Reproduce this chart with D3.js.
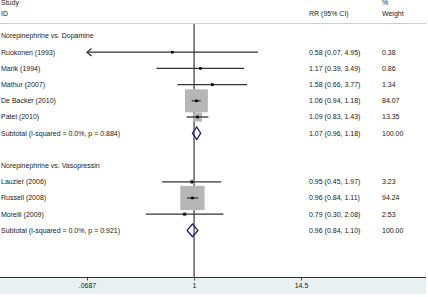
<!DOCTYPE html>
<html>
<head>
<meta charset="utf-8">
<script src="https://cdn.jsdelivr.net/npm/d3@7"></script>
<style>
  html, body { margin: 0; padding: 0; background: #ffffff; }
  svg { display: block; }
  text { font-family: "Liberation Sans", Arial, sans-serif; font-size: 7px; fill: #1a1a1a; }
</style>
</head>
<body>
<svg id="chart" width="428" height="297"></svg>
<script>
// ---- data ----
const groupNames = ["Norepinephrine vs. Dopamine", "Norepinephrine vs. Vasopressin"];
const studyNames = ["Ruokonen (1993)", "Marik (1994)", "Mathur (2007)", "De Backer (2010)", "Patel (2010)",
                    "Lauzier (2006)", "Russell (2008)", "Morelli (2009)"];
const studyGroup = [0, 0, 0, 0, 0, 1, 1, 1];
const rr      = [0.58, 1.17, 1.58, 1.06, 1.09, 0.95, 0.96, 0.79];
const ciLow   = [0.07, 0.39, 0.66, 0.94, 0.83, 0.45, 0.84, 0.30];
const ciHigh  = [4.95, 3.49, 3.77, 1.18, 1.43, 1.97, 1.11, 2.08];
const weights = [0.38, 0.86, 1.34, 84.07, 13.35, 3.23, 94.24, 2.53];
const subtotalLabels = ["Subtotal  (I-squared = 0.0%, p = 0.884)", "Subtotal  (I-squared = 0.0%, p = 0.921)"];
const subRR   = [1.07, 0.96];
const subLow  = [0.96, 0.84];
const subHigh = [1.18, 1.10];
const subWeight = [100.00, 100.00];
const tickValues = [0.0687, 1, 14.5];
const tickLabels = [".0687", "1", "14.5"];

// ---- layout ----
const W = 428, H = 297;
const svg = d3.select("#chart");
const x = d3.scaleLog().domain([0.0687, 14.5]).range([87, 301]);
const fmt = d3.format(".2f");
const ciText = (v, l, h) => `${fmt(v)} (${fmt(l)}, ${fmt(h)})`;

// build rows
const rows = [];
groupNames.forEach((g, gi) => {
  rows.push({type: "group", label: g});
  studyNames.forEach((s, i) => {
    if (studyGroup[i] === gi) rows.push({type: "study", label: s, v: rr[i], lo: ciLow[i], hi: ciHigh[i], w: weights[i]});
  });
  rows.push({type: "sub", label: subtotalLabels[gi], v: subRR[gi], lo: subLow[gi], hi: subHigh[gi], w: subWeight[gi]});
  rows.push({type: "blank"});
});
const y = d3.scaleLinear().domain([0, 1]).range([36, 52.2]);

const colText = 1, colCI = 309, colW = 382;
const axisY = 277;

// header
svg.append("text").attr("x", colText).attr("y", 3).attr("dy", "0.35em").text("Study");
svg.append("text").attr("x", colText).attr("y", 13.5).attr("dy", "0.35em").text("ID");
svg.append("text").attr("x", colCI).attr("y", 13.5).attr("dy", "0.35em").text("RR (95% CI)");
svg.append("text").attr("x", colW).attr("y", 3).attr("dy", "0.35em").text("%");
svg.append("text").attr("x", colW).attr("y", 13.5).attr("dy", "0.35em").text("Weight");
svg.append("line").attr("x1", 0).attr("x2", 426).attr("y1", 23.5).attr("y2", 23.5)
  .attr("stroke", "#cfcfcf").attr("stroke-width", 1);

// axis band
svg.append("rect").attr("x", 0).attr("y", axisY).attr("width", 426).attr("height", 17).attr("fill", "#e8f0f2");

// null line
svg.append("line").attr("x1", x(1)).attr("x2", x(1)).attr("y1", 24).attr("y2", axisY)
  .attr("stroke", "#111").attr("stroke-width", 1);

const boxK = 2.5;
rows.forEach((r, i) => {
  const cy = y(i);
  if (r.type === "blank") return;
  svg.append("text").attr("x", colText).attr("y", cy).attr("dy", "0.35em").text(r.label);
  if (r.type === "group") return;
  svg.append("text").attr("x", colCI).attr("y", cy).attr("dy", "0.35em").text(ciText(r.v, r.lo, r.hi));
  svg.append("text").attr("x", colW).attr("y", cy).attr("dy", "0.35em").text(fmt(r.w));
});

// boxes
const studyRows = rows.map((r, i) => ({...r, i})).filter(r => r.type === "study");
svg.selectAll("rect.box").data(studyRows).enter().append("rect")
  .attr("class", "box")
  .attr("x", d => x(d.v) - boxK * Math.sqrt(d.w) / 2)
  .attr("y", d => y(d.i) - boxK * Math.sqrt(d.w) / 2)
  .attr("width", d => boxK * Math.sqrt(d.w))
  .attr("height", d => boxK * Math.sqrt(d.w))
  .attr("fill", "#b6b6b6");

// CI lines
const dmin = x.domain()[0];
svg.selectAll("line.ci").data(studyRows).enter().append("line")
  .attr("class", "ci")
  .attr("x1", d => x(Math.max(d.lo, dmin)))
  .attr("x2", d => x(d.hi))
  .attr("y1", d => y(d.i)).attr("y2", d => y(d.i))
  .attr("stroke", "#333").attr("stroke-width", 1.3);

// arrows for CIs reaching the axis limit
studyRows.filter(d => d.lo < dmin * 1.1).forEach(d => {
  const tx = x(dmin), cy = y(d.i);
  svg.append("path")
    .attr("d", `M${tx + 4.5},${cy - 3.8} L${tx},${cy} L${tx + 4.5},${cy + 3.8}`)
    .attr("fill", "none").attr("stroke", "#333").attr("stroke-width", 1.3);
});

// point markers
svg.selectAll("rect.pt").data(studyRows).enter().append("rect")
  .attr("class", "pt")
  .attr("x", d => x(d.v) - 1.3).attr("y", d => y(d.i) - 1.3)
  .attr("width", 2.6).attr("height", 2.6).attr("fill", "#000");

// diamonds
const subRows = rows.map((r, i) => ({...r, i})).filter(r => r.type === "sub");
svg.selectAll("path.dia").data(subRows).enter().append("path")
  .attr("class", "dia")
  .attr("d", d => {
    const cy = y(d.i);
    return `M${x(d.lo)},${cy} L${x(d.v)},${cy - 6.3} L${x(d.hi)},${cy} L${x(d.v)},${cy + 6.3} Z`;
  })
  .attr("fill", "none").attr("stroke", "#1e1e7a").attr("stroke-width", 1.3);

// axis
const axis = d3.axisBottom(x).tickValues(tickValues)
  .tickFormat((d, i) => tickLabels[i]).tickSize(3.5).tickSizeOuter(0).tickPadding(3);
const gAxis = svg.append("g").attr("transform", `translate(0,${axisY})`).call(axis);
gAxis.select(".domain").remove();
gAxis.selectAll(".tick line").attr("stroke", "#444");
gAxis.selectAll(".tick text").style("font-family", '"Liberation Sans", Arial, sans-serif')
  .style("font-size", "7px").attr("fill", "#1a1a1a");
svg.append("line").attr("x1", 0).attr("x2", 426).attr("y1", axisY + 0.5).attr("y2", axisY + 0.5)
  .attr("stroke", "#333").attr("stroke-width", 1);
</script>
</body>
</html>
